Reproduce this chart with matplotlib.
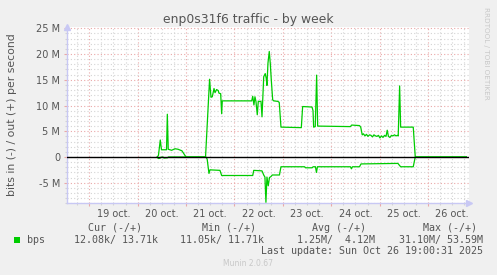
import matplotlib
matplotlib.use("Agg")
import matplotlib.pyplot as plt
import numpy as np
from matplotlib.ticker import MultipleLocator, FuncFormatter, NullFormatter
from matplotlib.patches import Rectangle

# Time axis: half-hour slots since 19 Oct 00:00 (munin weekly resolution)
out_t = [67.4, 68.6, 70.4, 71.6, 76.6, 77.4, 78.3, 81.7, 85.0, 88.0, 90.6, 91.9, 95.9,
         115.3, 119.3, 120.7, 122.0, 123.7, 124.7, 126.3, 127.9, 128.6, 130.3, 131.3, 131.9,
         161.1, 162.1, 163.3, 164.3, 165.3, 166.6, 167.6, 170.3, 171.3, 173.0, 174.5, 175.5,
         176.2, 177.2, 178.5, 179.5, 180.5, 181.9, 182.9, 187.1, 188.4, 190.1, 210.3, 211.6,
         220.9, 221.9, 222.5, 224.1, 225.5, 226.5, 259.0, 260.2, 268.0, 269.2, 270.7,
         271.9, 273.4, 274.9, 276.4, 277.9, 279.4, 280.9, 282.3, 283.8, 285.3, 286.8, 288.3,
         289.8, 291.3, 292.8, 294.3, 295.5, 296.7, 298.2, 299.7, 301.2, 302.7, 304.2, 305.7,
         306.4, 307.8, 308.8, 321.3, 323.3, 374.0]
# bits out per second, in M
out_v = [0.0, 0.3, 3.3, 1.4, 1.4, 8.3, 1.5, 1.3, 1.6, 1.5, 1.3, 1.2, 0.0,
         0.0, 15.1, 11.6, 11.7, 13.3, 12.5, 13.1, 12.9, 12.4, 12.3, 8.4, 10.9,
         10.9, 11.8, 10.1, 11.7, 10.8, 8.2, 10.8, 10.8, 7.8, 15.6, 16.2, 15.3,
         13.9, 18.2, 20.5, 18.2, 15.0, 11.1, 10.9, 10.8, 10.6, 5.8, 5.7, 9.8,
         9.7, 9.0, 5.8, 5.9, 15.9, 6.0, 5.9, 6.2, 6.1, 5.8, 4.3,
         4.5, 4.1, 4.4, 4.0, 4.3, 4.2, 3.9, 4.3, 4.1, 4.0, 4.2, 3.7,
         4.1, 3.8, 4.2, 4.0, 5.2, 4.0, 3.8, 4.2, 4.1, 4.3, 4.1, 4.2,
         4.1, 13.8, 5.8, 5.8, 0.0, 0.01371]

in_t = [67.4, 68.4, 70.1, 71.1, 73.1, 74.1, 77.6, 78.5, 95.9,
        115.6, 116.9, 118.7, 119.7, 129.6, 131.3, 162.1, 163.1, 171.3, 173.0, 174.2,
        175.2, 176.2, 177.5, 178.7, 180.2, 181.5, 188.6, 190.1, 213.5, 214.5, 221.0,
        222.0, 224.3, 225.3, 226.3, 259.0, 260.0, 261.0, 268.0, 269.5, 306.1, 307.1,
        308.8, 321.3, 323.3, 374.0]
# bits in per second, in M (drawn negative)
in_v = [0.0, 0.3, 0.25, 0.05, 0.0, 0.2, 0.15, 0.0, 0.0,
        0.0, 0.4, 3.2, 2.5, 2.6, 3.6, 3.6, 2.6, 2.7, 3.5, 3.9,
        8.8, 3.9, 5.6, 4.0, 3.8, 3.5, 3.5, 1.9, 1.9, 2.1, 2.1,
        1.9, 1.9, 3.0, 1.9, 1.9, 2.3, 1.9, 1.9, 1.35, 1.25, 1.5,
        1.9, 1.9, 0.0, 0.01208]

day_labels = ["19 oct.", "20 oct.", "21 oct.", "22 oct.", "23 oct.", "24 oct.", "25 oct.", "26 oct."]
legend_headers = ["Cur (-/+)", "Min (-/+)", "Avg (-/+)", "Max (-/+)"]
legend_values = ["12.08k/ 13.71k", "11.05k/ 11.71k", "1.25M/  4.12M", "31.10M/ 53.59M"]
series_name = "bps"
title = "enp0s31f6 traffic - by week"
ylabel = "bits in (-) / out (+) per second"
last_update = "Last update: Sun Oct 26 19:00:31 2025"

W, H = 497, 275
GREEN = "#00CC00"
TXT = "#555555"
fig = plt.figure(figsize=(W / 100, H / 100), dpi=100, facecolor="#F0F0F0")

def fx(px):
    return px / W

def fy(py):
    return 1 - py / H

ax_l, ax_r, ax_t, ax_b = 66.7, 469.0, 26.75, 203.3
ax = fig.add_axes([fx(ax_l), fy(ax_b), (ax_r - ax_l) / W, (ax_b - ax_t) / H])
ax.set_facecolor("white")

ax.plot(out_t, out_v, color=GREEN, lw=0.9, zorder=3)
ax.plot(in_t, -np.array(in_v), color=GREEN, lw=0.9, zorder=3)
ax.axhline(0, color="black", lw=1.0, zorder=4)

ax.set_xlim(-22.4, 376.6)
ax.set_ylim(-9.0, 25.3)

ax.xaxis.set_major_locator(MultipleLocator(48))
ax.xaxis.set_minor_locator(MultipleLocator(12))
ax.xaxis.set_major_formatter(NullFormatter())

def xlab(v, pos):
    r = int(round(v))
    if r % 48 == 24:
        i = r // 48
        if 0 <= i < len(day_labels):
            return day_labels[i]
    return ""

ax.xaxis.set_minor_formatter(FuncFormatter(xlab))
ax.yaxis.set_major_locator(MultipleLocator(5))
ax.yaxis.set_minor_locator(MultipleLocator(1))
ax.yaxis.set_major_formatter(FuncFormatter(lambda v, p: "0" if abs(v) < 1e-9 else f"{int(round(v))} M"))
ax.yaxis.set_minor_formatter(NullFormatter())

MG = "#eaa8a8"
mg = "#d4d4d4"
ax.grid(which="major", color=MG, linestyle=(0, (1, 2)), lw=0.8, zorder=1)
ax.grid(which="minor", color=mg, linestyle=(0, (1, 2)), lw=0.8, zorder=0)
ax.set_axisbelow(True)

ax.tick_params(which="major", axis="both", length=2.5, width=0.8, color=MG, labelsize=7, labelcolor=TXT, pad=2.2)
ax.tick_params(which="minor", axis="both", length=1.5, width=0.8, color=mg, labelsize=7, labelcolor=TXT, pad=2.8)

for s in ["top", "right"]:
    ax.spines[s].set_visible(False)
for s in ["left", "bottom"]:
    ax.spines[s].set_color("#c8c8f4")
    ax.spines[s].set_linewidth(1.0)

# axis arrows
ax.plot([0], [1.0], marker="^", ms=4, color="#c8c8f4", transform=ax.transAxes, clip_on=False, zorder=5)
ax.plot([1.0], [0], marker=">", ms=4, color="#c8c8f4", transform=ax.transAxes, clip_on=False, zorder=5)

fig.text(fx(248.7), fy(19.5), title, ha="center", va="center", fontsize=8.9, color=TXT)
fig.text(fx(12), fy(115), ylabel, ha="center", va="center", rotation=90, fontsize=7.8, color=TXT)
fig.text(fx(486), fy(53.5), "RRDTOOL / TOBI OETIKER", ha="center", va="center", rotation=270,
         fontsize=5.2, color="#c8c8c8")

mono = "DejaVu Sans Mono"
hdr_x = [115.5, 228.5, 338.5, 450.0]
for x, t in zip(hdr_x, legend_headers):
    fig.text(fx(x), fy(228), t, ha="center", va="center", family=mono, fontsize=7.2, color=TXT)
val_r = [158, 264, 375, 483]
for x, t in zip(val_r, legend_values):
    fig.text(fx(x), fy(240), t, ha="right", va="center", family=mono, fontsize=7.2, color=TXT)
fig.text(fx(27), fy(240), series_name, ha="left", va="center", family=mono, fontsize=7.2, color=TXT)
fig.patches.append(Rectangle((fx(14), fy(243)), 6 / W, 6 / H, transform=fig.transFigure,
                             facecolor=GREEN, edgecolor="none"))
fig.text(fx(483), fy(251.5), last_update, ha="right", va="center", family=mono, fontsize=7.2, color=TXT)
fig.text(fx(248), fy(264), "Munin 2.0.67", ha="center", va="center", fontsize=5.5, color="#c8c8c8")

fig.savefig("out.png", dpi=100, facecolor=fig.get_facecolor())
